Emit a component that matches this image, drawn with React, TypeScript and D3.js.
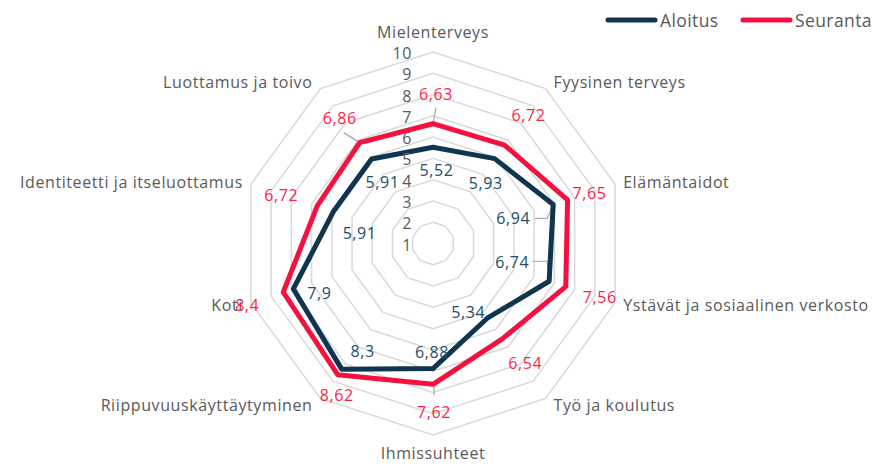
import React from "react";
import * as d3 from "d3";

const categories = [
  "Mielenterveys",
  "Fyysinen terveys",
  "Elämäntaidot",
  "Ystävät ja sosiaalinen verkosto",
  "Työ ja koulutus",
  "Ihmissuhteet",
  "Riippuvuuskäyttäytyminen",
  "Koti",
  "Identiteetti ja itseluottamus",
  "Luottamus ja toivo",
];
const aloitus = [5.52, 5.93, 6.94, 6.74, 5.34, 6.88, 8.3, 7.9, 5.91, 5.91];
const seuranta = [6.63, 6.72, 7.65, 7.56, 6.54, 7.62, 8.62, 8.4, 6.72, 6.86];
const ringTicks = [1, 2, 3, 4, 5, 6, 7, 8, 9, 10];
const seriesNames = ["Aloitus", "Seuranta"];

// layout (label offsets relative to data points)
const aloitusLabelOffsets: [number, number][] = [
  [3.5, 23], [-9, 24], [-40, 14], [-37, -19], [-19, -6],
  [-1, -17], [21, -18], [26, 4], [26, 22], [11, 23],
];
const seurantaLabelOffsets: [number, number][] = [
  [3, -30], [24, -30], [22, -7], [34, 10], [23, 24],
  [1, 28], [-1, 20], [-36, 13], [-36, -11], [-20, -25],
];

const W = 874, H = 464;
const cx = 433, cy = 243.5, R = 191.5;
const FONT = "'Open Sans', Lato, sans-serif";
const GRAY = "#595959";
const NAVY = "#0f3550";
const RED = "#f5103f";
const NAVY_TXT = "#234e68";
const RED_TXT = "#ff1e4a";
const LS = 0.6;

export default function App() {
  const r = d3.scaleLinear().domain([1, 10]).range([0, R]);
  const n = categories.length;
  const ang = (i: number) => (i * 2 * Math.PI) / n;
  const pt = (i: number, v: number): [number, number] => [
    cx + r(v) * Math.sin(ang(i)),
    cy - r(v) * Math.cos(ang(i)),
  ];
  const line = d3.line<[number, number]>().curve(d3.curveLinearClosed);

  const fmt = (v: number) => String(v).replace(".", ",");

  const ringPath = (v: number) =>
    line(categories.map((_, i) => pt(i, v))) as string;

  const dataPath = (vals: number[]) =>
    line(vals.map((v, i) => pt(i, v))) as string;

  return (
    <svg
      width={W}
      height={H}
      style={{ position: "absolute", left: 0, top: 0, background: "#fff" }}
      fontFamily={FONT}
      letterSpacing={LS}
    >
      {/* grid rings */}
      {ringTicks.filter((t) => t > 1).map((t) => (
        <path key={t} d={ringPath(t)} fill="none" stroke="#d9d9d9" strokeWidth={1.5} />
      ))}

      {/* leader lines */}
      {(() => {
        const s0 = pt(0, seuranta[0]);
        const s9 = pt(9, seuranta[9]);
        const s5 = pt(5, seuranta[5]);
        const a2 = pt(2, aloitus[2]);
        const a3 = pt(3, aloitus[3]);
        return (
          <g stroke="#a6a6a6" strokeWidth={1.2} fill="none">
            <path d={`M${s0[0] + 3},${s0[1] - 16} L${s0[0]},${s0[1]}`} />
            <path d={`M${s9[0] - 16},${s9[1] - 10} L${s9[0]},${s9[1]}`} />
            <path d={`M${s5[0] + 1},${s5[1]} L${s5[0] + 1},${s5[1] + 11}`} />
            <path d={`M${a2[0] - 18},${a2[1] + 14} L${a2[0] - 6},${a2[1] + 14} L${a2[0]},${a2[1]}`} />
            <path d={`M${a3[0] - 17},${a3[1] - 20} L${a3[0] - 2},${a3[1] - 20} L${a3[0]},${a3[1]}`} />
          </g>
        );
      })()}

      {/* series */}
      <path d={dataPath(aloitus)} fill="none" stroke={NAVY} strokeWidth={5} strokeLinejoin="round" />
      <path d={dataPath(seuranta)} fill="none" stroke={RED} strokeWidth={5} strokeLinejoin="round" />

      {/* ring tick labels */}
      {ringTicks.map((t) => (
        <text
          key={t}
          x={cx - 21}
          y={cy - r(t) + 1}
          textAnchor="end"
          dominantBaseline="central"
          fontSize={16}
          fill={GRAY}
        >
          {t}
        </text>
      ))}

      {/* category labels */}
      {categories.map((c, i) => {
        const [vx, vy] = pt(i, 10);
        const s = Math.sin(ang(i));
        const co = Math.cos(ang(i));
        let anchor: "start" | "end" | "middle" = "middle";
        let x = vx, y = vy;
        if (Math.abs(s) < 0.01) {
          y = co > 0 ? vy - 20 : vy + 18;
        } else {
          anchor = s > 0 ? "start" : "end";
          x = vx + Math.sign(s) * 8;
          y = vy - co * 8;
        }
        return (
          <text
            key={c}
            x={x}
            y={y}
            textAnchor={anchor}
            dominantBaseline="central"
            fontSize={16}
            fill={GRAY}
          >
            {c}
          </text>
        );
      })}

      {/* data labels */}
      {aloitus.map((v, i) => {
        const [x, y] = pt(i, v);
        const [dx, dy] = aloitusLabelOffsets[i];
        return (
          <text key={"a" + i} x={x + dx} y={y + dy} textAnchor="middle" dominantBaseline="central" fontSize={16} fill={NAVY_TXT}>
            {fmt(v)}
          </text>
        );
      })}
      {seuranta.map((v, i) => {
        const [x, y] = pt(i, v);
        const [dx, dy] = seurantaLabelOffsets[i];
        return (
          <text key={"s" + i} x={x + dx} y={y + dy} textAnchor="middle" dominantBaseline="central" fontSize={16} fill={RED_TXT}>
            {fmt(v)}
          </text>
        );
      })}

      {/* legend */}
      {seriesNames.map((name, i) => {
        const x0 = i === 0 ? 608 : 743;
        return (
          <g key={name}>
            <line x1={x0} x2={x0 + 47} y1={20} y2={20} stroke={i === 0 ? NAVY : RED} strokeWidth={5} strokeLinecap="round" />
            <text x={x0 + 52} y={20} dominantBaseline="central" fontSize={17.5} letterSpacing={0.4} fill={GRAY}>
              {name}
            </text>
          </g>
        );
      })}
    </svg>
  );
}
